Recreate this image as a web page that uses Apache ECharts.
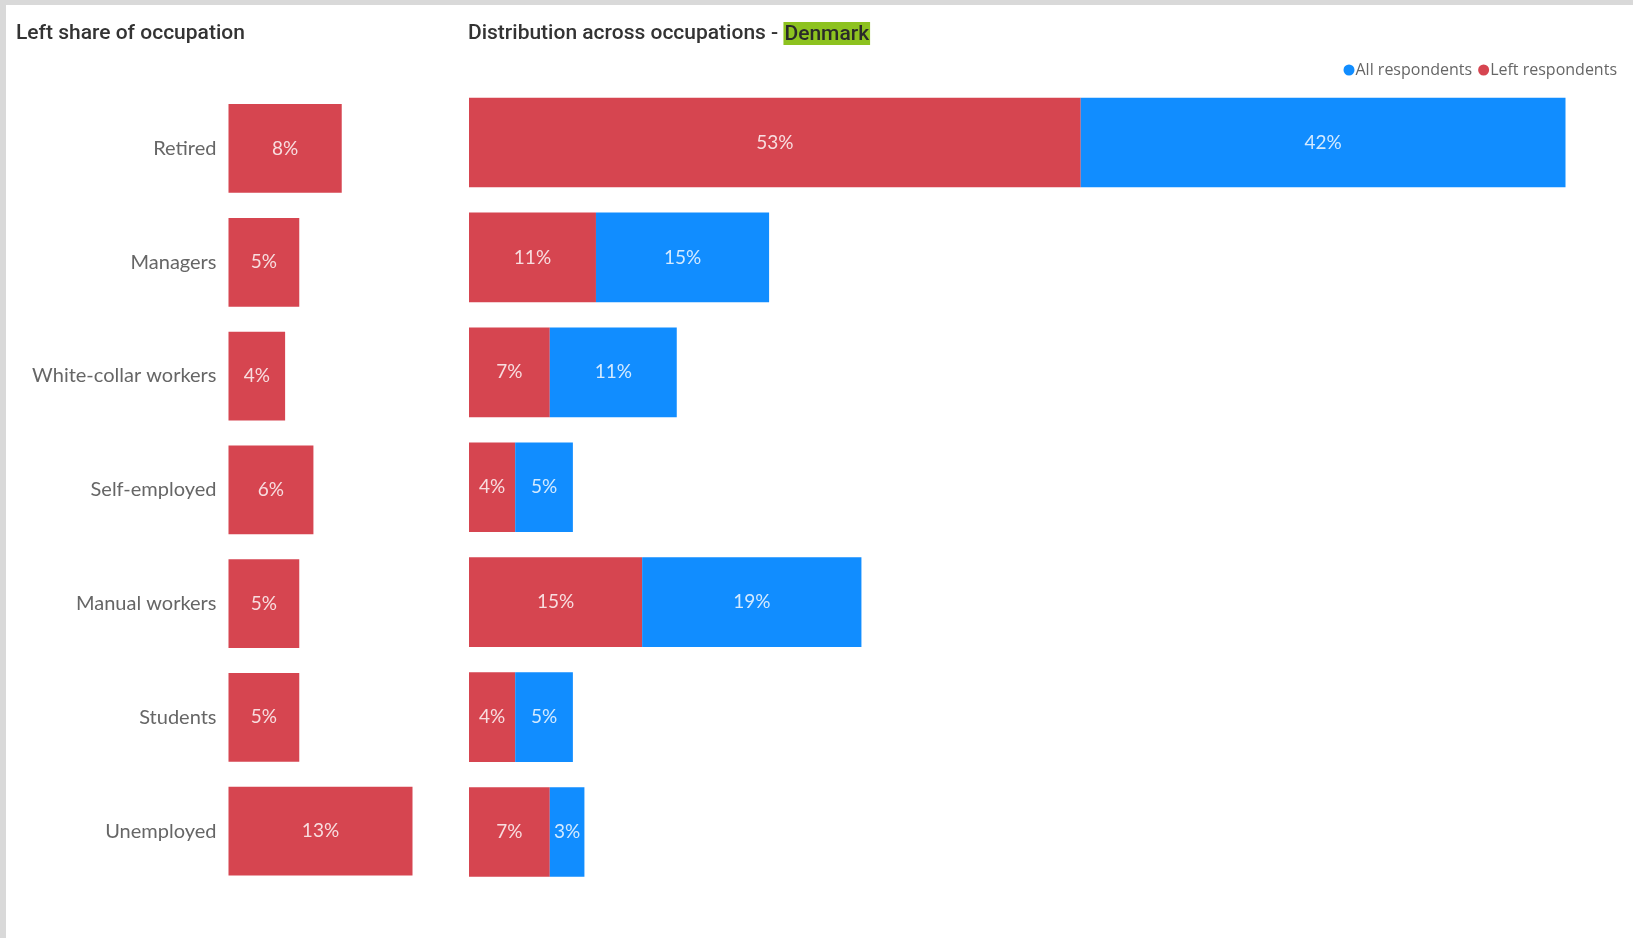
<!DOCTYPE html>
<html>
<head>
<meta charset="utf-8">
<title>Occupation – Denmark</title>
<script src="https://cdn.jsdelivr.net/npm/echarts@6/dist/echarts.min.js"></script>
<style>
  html, body { margin: 0; padding: 0; background: #ffffff; }
  #chart { width: 1633px; height: 938px; }
</style>
</head>
<body>
<div id="chart"></div>
<script>
// Occupation groups, top to bottom
const categories = ['Retired', 'Managers', 'White-collar workers', 'Self-employed', 'Manual workers', 'Students', 'Unemployed'];

// Share of each occupation that votes left (%)
const leftShare = [8, 5, 4, 6, 5, 5, 13];

// Distribution across occupations (%)
const leftRespondents = [53, 11, 7, 4, 15, 4, 7];
const allRespondents = [42, 15, 11, 5, 19, 5, 3];

const RED = '#D64550';
const BLUE = '#118DFF';
const FONT = 'Lato, "Open Sans", sans-serif';
const TITLE_FONT = 'Roboto, "DejaVu Sans", sans-serif';

const leftMax = Math.max(...leftShare);
const rightMax = Math.max(...leftRespondents.map((v, i) => v + allRespondents[i]));

const valueLabel = {
  show: true,
  position: 'inside',
  formatter: p => p.value + '%',
  color: 'rgba(255,255,255,0.82)',
  fontFamily: FONT,
  fontSize: 19
};

const chart = echarts.init(document.getElementById('chart'), null, { renderer: 'canvas' });

chart.setOption({
  backgroundColor: '#ffffff',
  animation: false,
  graphic: [
    { type: 'rect', left: 0, top: 0, shape: { width: 1633, height: 5 }, style: { fill: '#d9d9d9' }, silent: true },
    { type: 'rect', left: 0, top: 0, shape: { width: 6, height: 938 }, style: { fill: '#d9d9d9' }, silent: true }
  ],
  title: [
    {
      text: 'Left share of occupation',
      left: 11, top: 18,
      textStyle: { fontFamily: TITLE_FONT, fontWeight: 500, fontSize: 21, color: '#333333' }
    },
    {
      text: 'Distribution across occupations - {h|Denmark}',
      left: 463, top: 17,
      textStyle: {
        fontFamily: TITLE_FONT, fontWeight: 500, fontSize: 21, color: '#333333',
        rich: {
          h: {
            fontFamily: TITLE_FONT, fontWeight: 500, fontSize: 21, color: '#2a2a2a',
            backgroundColor: '#8DC21F', padding: [2, 1, 0, 1]
          }
        }
      }
    }
  ],
  legend: {
    data: ['All respondents', 'Left respondents'],
    right: 11, top: 57,
    icon: 'circle',
    itemWidth: 11, itemHeight: 11,
    itemGap: 6,
    textStyle: { fontFamily: '"Open Sans", sans-serif', fontSize: 16, color: '#666666', padding: [0, 0, 0, -4] }
  },
  grid: [
    { left: 228.5, right: 1633 - 412.5, top: 91.6, bottom: 50 },
    { left: 469, right: 67.5, top: 85, bottom: 48.5 }
  ],
  xAxis: [
    { gridIndex: 0, type: 'value', min: 0, max: leftMax, show: false },
    { gridIndex: 1, type: 'value', min: 0, max: rightMax, show: false }
  ],
  yAxis: [
    {
      gridIndex: 0, type: 'category', data: categories, inverse: true,
      axisLine: { show: false }, axisTick: { show: false }, splitLine: { show: false },
      axisLabel: { fontFamily: FONT, fontSize: 20, color: '#666666', margin: 12 }
    },
    {
      gridIndex: 1, type: 'category', data: categories, inverse: true,
      axisLine: { show: false }, axisTick: { show: false }, splitLine: { show: false },
      axisLabel: { show: false }
    }
  ],
  series: [
    {
      name: 'Left share',
      type: 'bar',
      xAxisIndex: 0, yAxisIndex: 0,
      data: leftShare,
      barCategoryGap: '22%',
      itemStyle: { color: RED },
      label: valueLabel
    },
    {
      name: 'Left respondents',
      type: 'bar',
      xAxisIndex: 1, yAxisIndex: 1,
      stack: 'dist',
      data: leftRespondents,
      barCategoryGap: '22%',
      itemStyle: { color: RED },
      label: valueLabel
    },
    {
      name: 'All respondents',
      type: 'bar',
      xAxisIndex: 1, yAxisIndex: 1,
      stack: 'dist',
      data: allRespondents,
      barCategoryGap: '22%',
      itemStyle: { color: BLUE },
      label: valueLabel
    }
  ]
});
</script>
</body>
</html>
